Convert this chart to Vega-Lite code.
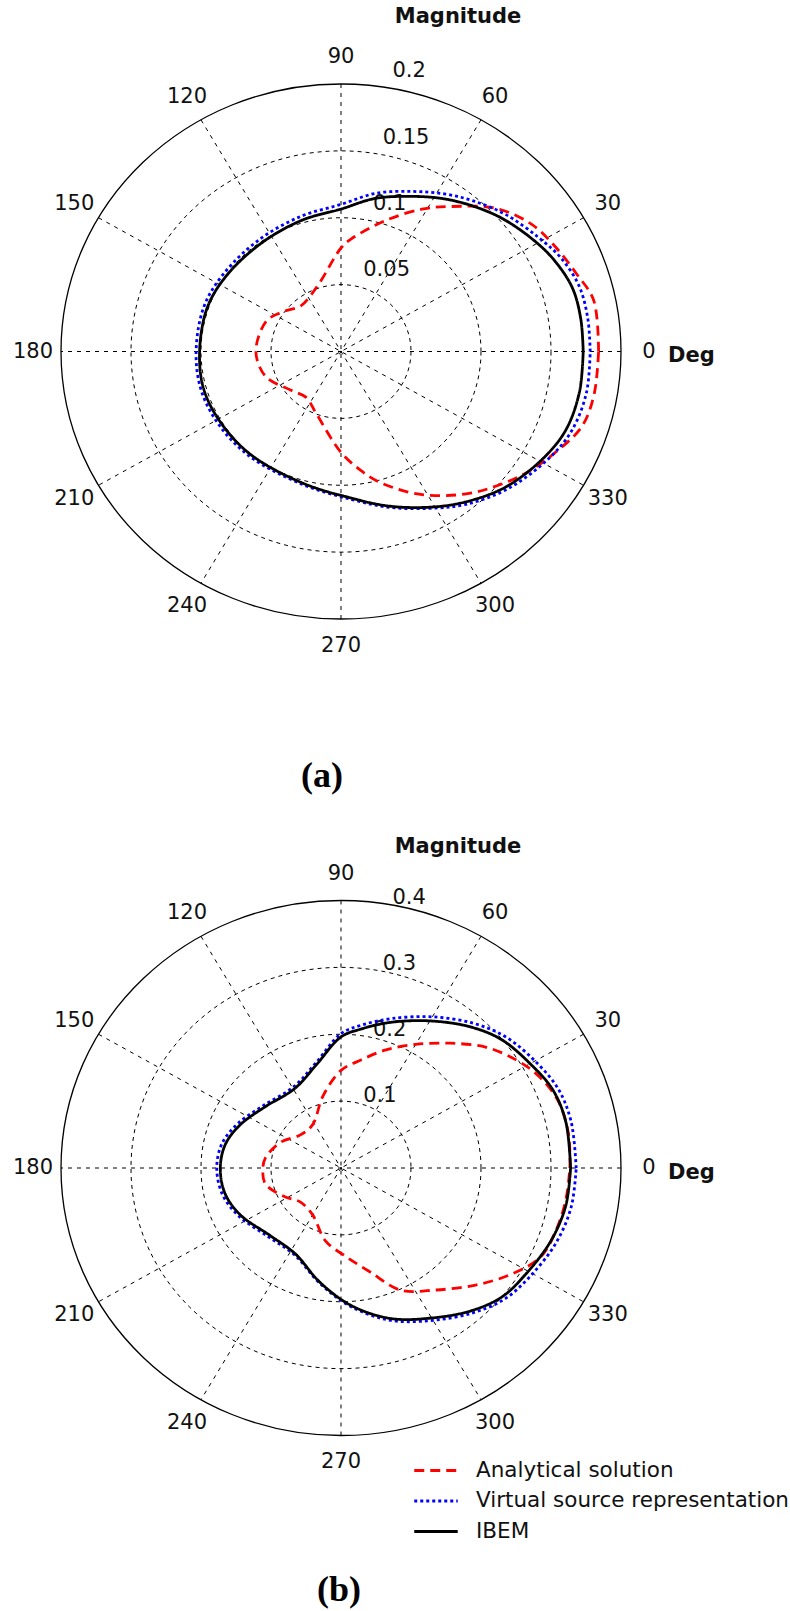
{
  "$schema": "https://vega.github.io/schema/vega-lite/v6.json",
  "width": 790,
  "height": 1611,
  "autosize": {"type": "none"},
  "padding": 0,
  "background": "white",
  "config": {"view": {"stroke": null}, "text": {"font": "DejaVu Sans", "color": "#111"}},
  "datasets": {
    "angles": [
      {"deg": 0, "label": "0"}, {"deg": 30, "label": "30"}, {"deg": 60, "label": "60"}, {"deg": 90, "label": "90"},
      {"deg": 120, "label": "120"}, {"deg": 150, "label": "150"}, {"deg": 180, "label": "180"}, {"deg": 210, "label": "210"},
      {"deg": 240, "label": "240"}, {"deg": 270, "label": "270"}, {"deg": 300, "label": "300"}, {"deg": 330, "label": "330"}
    ],
    "rings_a": [
      {"r": 0.05, "label": "0.05"}, {"r": 0.1, "label": "0.1"}, {"r": 0.15, "label": "0.15"}, {"r": 0.2, "label": "0.2"}
    ],
    "rings_b": [
      {"r": 0.1, "label": "0.1"}, {"r": 0.2, "label": "0.2"}, {"r": 0.3, "label": "0.3"}, {"r": 0.4, "label": "0.4"}
    ],
    "curves_a": [
      {"series": "Analytical solution", "theta": 0, "r": 0.184},
      {"series": "Analytical solution", "theta": 12, "r": 0.1845},
      {"series": "Analytical solution", "theta": 19, "r": 0.178},
      {"series": "Analytical solution", "theta": 27, "r": 0.172},
      {"series": "Analytical solution", "theta": 35, "r": 0.166},
      {"series": "Analytical solution", "theta": 44, "r": 0.154},
      {"series": "Analytical solution", "theta": 54, "r": 0.134},
      {"series": "Analytical solution", "theta": 61, "r": 0.122},
      {"series": "Analytical solution", "theta": 72, "r": 0.103},
      {"series": "Analytical solution", "theta": 85, "r": 0.0845},
      {"series": "Analytical solution", "theta": 90, "r": 0.0774},
      {"series": "Analytical solution", "theta": 105, "r": 0.055},
      {"series": "Analytical solution", "theta": 118, "r": 0.047},
      {"series": "Analytical solution", "theta": 130, "r": 0.0446},
      {"series": "Analytical solution", "theta": 146, "r": 0.052},
      {"series": "Analytical solution", "theta": 157, "r": 0.058},
      {"series": "Analytical solution", "theta": 180, "r": 0.0608},
      {"series": "Analytical solution", "theta": 199, "r": 0.057},
      {"series": "Analytical solution", "theta": 219, "r": 0.046},
      {"series": "Analytical solution", "theta": 234, "r": 0.0424},
      {"series": "Analytical solution", "theta": 249, "r": 0.0496},
      {"series": "Analytical solution", "theta": 270, "r": 0.0754},
      {"series": "Analytical solution", "theta": 279, "r": 0.09},
      {"series": "Analytical solution", "theta": 286, "r": 0.102},
      {"series": "Analytical solution", "theta": 298, "r": 0.121},
      {"series": "Analytical solution", "theta": 310, "r": 0.139},
      {"series": "Analytical solution", "theta": 318, "r": 0.15},
      {"series": "Analytical solution", "theta": 326, "r": 0.161},
      {"series": "Analytical solution", "theta": 334, "r": 0.171},
      {"series": "Analytical solution", "theta": 342, "r": 0.181},
      {"series": "Analytical solution", "theta": 350, "r": 0.1836},
      {"series": "Analytical solution", "theta": 360, "r": 0.184},
      {"series": "Virtual source representation", "theta": 0, "r": 0.178},
      {"series": "Virtual source representation", "theta": 8, "r": 0.178},
      {"series": "Virtual source representation", "theta": 16, "r": 0.177},
      {"series": "Virtual source representation", "theta": 24, "r": 0.172},
      {"series": "Virtual source representation", "theta": 31, "r": 0.165},
      {"series": "Virtual source representation", "theta": 41, "r": 0.156},
      {"series": "Virtual source representation", "theta": 50, "r": 0.147},
      {"series": "Virtual source representation", "theta": 58, "r": 0.139},
      {"series": "Virtual source representation", "theta": 67, "r": 0.13},
      {"series": "Virtual source representation", "theta": 78, "r": 0.121},
      {"series": "Virtual source representation", "theta": 90, "r": 0.11},
      {"series": "Virtual source representation", "theta": 106, "r": 0.105},
      {"series": "Virtual source representation", "theta": 125, "r": 0.102},
      {"series": "Virtual source representation", "theta": 145, "r": 0.102},
      {"series": "Virtual source representation", "theta": 161, "r": 0.1035},
      {"series": "Virtual source representation", "theta": 180, "r": 0.1035},
      {"series": "Virtual source representation", "theta": 196, "r": 0.104},
      {"series": "Virtual source representation", "theta": 212, "r": 0.103},
      {"series": "Virtual source representation", "theta": 230, "r": 0.102},
      {"series": "Virtual source representation", "theta": 254, "r": 0.103},
      {"series": "Virtual source representation", "theta": 274, "r": 0.111},
      {"series": "Virtual source representation", "theta": 287, "r": 0.122},
      {"series": "Virtual source representation", "theta": 299, "r": 0.134},
      {"series": "Virtual source representation", "theta": 308, "r": 0.145},
      {"series": "Virtual source representation", "theta": 319, "r": 0.157},
      {"series": "Virtual source representation", "theta": 331, "r": 0.168},
      {"series": "Virtual source representation", "theta": 340, "r": 0.175},
      {"series": "Virtual source representation", "theta": 350, "r": 0.178},
      {"series": "Virtual source representation", "theta": 360, "r": 0.178},
      {"series": "IBEM", "theta": 0, "r": 0.173},
      {"series": "IBEM", "theta": 8, "r": 0.173},
      {"series": "IBEM", "theta": 16, "r": 0.172},
      {"series": "IBEM", "theta": 24, "r": 0.167},
      {"series": "IBEM", "theta": 31, "r": 0.161},
      {"series": "IBEM", "theta": 41, "r": 0.152},
      {"series": "IBEM", "theta": 50, "r": 0.143},
      {"series": "IBEM", "theta": 58, "r": 0.135},
      {"series": "IBEM", "theta": 67, "r": 0.126},
      {"series": "IBEM", "theta": 78, "r": 0.117},
      {"series": "IBEM", "theta": 90, "r": 0.1065},
      {"series": "IBEM", "theta": 106, "r": 0.102},
      {"series": "IBEM", "theta": 125, "r": 0.099},
      {"series": "IBEM", "theta": 145, "r": 0.0995},
      {"series": "IBEM", "theta": 161, "r": 0.101},
      {"series": "IBEM", "theta": 180, "r": 0.101},
      {"series": "IBEM", "theta": 196, "r": 0.102},
      {"series": "IBEM", "theta": 212, "r": 0.101},
      {"series": "IBEM", "theta": 230, "r": 0.1005},
      {"series": "IBEM", "theta": 254, "r": 0.102},
      {"series": "IBEM", "theta": 274, "r": 0.11},
      {"series": "IBEM", "theta": 287, "r": 0.121},
      {"series": "IBEM", "theta": 299, "r": 0.133},
      {"series": "IBEM", "theta": 308, "r": 0.143},
      {"series": "IBEM", "theta": 319, "r": 0.155},
      {"series": "IBEM", "theta": 331, "r": 0.165},
      {"series": "IBEM", "theta": 340, "r": 0.171},
      {"series": "IBEM", "theta": 350, "r": 0.173},
      {"series": "IBEM", "theta": 360, "r": 0.173}
    ],
    "curves_b": [
      {"series": "Analytical solution", "theta": 0, "r": 0.327},
      {"series": "Analytical solution", "theta": 9, "r": 0.329},
      {"series": "Analytical solution", "theta": 18, "r": 0.326},
      {"series": "Analytical solution", "theta": 26, "r": 0.314},
      {"series": "Analytical solution", "theta": 33, "r": 0.2975},
      {"series": "Analytical solution", "theta": 41, "r": 0.275},
      {"series": "Analytical solution", "theta": 50, "r": 0.2436},
      {"series": "Analytical solution", "theta": 60, "r": 0.2134},
      {"series": "Analytical solution", "theta": 70, "r": 0.188},
      {"series": "Analytical solution", "theta": 80, "r": 0.164},
      {"series": "Analytical solution", "theta": 90, "r": 0.146},
      {"series": "Analytical solution", "theta": 103.5, "r": 0.1106},
      {"series": "Analytical solution", "theta": 122, "r": 0.0764},
      {"series": "Analytical solution", "theta": 139.5, "r": 0.0762},
      {"series": "Analytical solution", "theta": 156, "r": 0.0945},
      {"series": "Analytical solution", "theta": 172, "r": 0.109},
      {"series": "Analytical solution", "theta": 180, "r": 0.1116},
      {"series": "Analytical solution", "theta": 192.5, "r": 0.1106},
      {"series": "Analytical solution", "theta": 208.6, "r": 0.0905},
      {"series": "Analytical solution", "theta": 221, "r": 0.0773},
      {"series": "Analytical solution", "theta": 240, "r": 0.081},
      {"series": "Analytical solution", "theta": 258.5, "r": 0.1113},
      {"series": "Analytical solution", "theta": 273, "r": 0.1325},
      {"series": "Analytical solution", "theta": 285, "r": 0.161},
      {"series": "Analytical solution", "theta": 295, "r": 0.2015},
      {"series": "Analytical solution", "theta": 306.5, "r": 0.227},
      {"series": "Analytical solution", "theta": 317.7, "r": 0.26},
      {"series": "Analytical solution", "theta": 326.7, "r": 0.29},
      {"series": "Analytical solution", "theta": 335, "r": 0.3147},
      {"series": "Analytical solution", "theta": 343, "r": 0.321},
      {"series": "Analytical solution", "theta": 351.6, "r": 0.3247},
      {"series": "Analytical solution", "theta": 360, "r": 0.327},
      {"series": "Virtual source representation", "theta": 0, "r": 0.336},
      {"series": "Virtual source representation", "theta": 12, "r": 0.336},
      {"series": "Virtual source representation", "theta": 21, "r": 0.332},
      {"series": "Virtual source representation", "theta": 30, "r": 0.32},
      {"series": "Virtual source representation", "theta": 40, "r": 0.306},
      {"series": "Virtual source representation", "theta": 49, "r": 0.287},
      {"series": "Virtual source representation", "theta": 60, "r": 0.261},
      {"series": "Virtual source representation", "theta": 72, "r": 0.235},
      {"series": "Virtual source representation", "theta": 82, "r": 0.216},
      {"series": "Virtual source representation", "theta": 90, "r": 0.201},
      {"series": "Virtual source representation", "theta": 103, "r": 0.161},
      {"series": "Virtual source representation", "theta": 119, "r": 0.139},
      {"series": "Virtual source representation", "theta": 140, "r": 0.145},
      {"series": "Virtual source representation", "theta": 156, "r": 0.162},
      {"series": "Virtual source representation", "theta": 168, "r": 0.174},
      {"series": "Virtual source representation", "theta": 180, "r": 0.1775},
      {"series": "Virtual source representation", "theta": 193, "r": 0.174},
      {"series": "Virtual source representation", "theta": 206, "r": 0.163},
      {"series": "Virtual source representation", "theta": 225, "r": 0.146},
      {"series": "Virtual source representation", "theta": 243, "r": 0.146},
      {"series": "Virtual source representation", "theta": 260, "r": 0.175},
      {"series": "Virtual source representation", "theta": 274, "r": 0.208},
      {"series": "Virtual source representation", "theta": 287.5, "r": 0.239},
      {"series": "Virtual source representation", "theta": 300, "r": 0.263},
      {"series": "Virtual source representation", "theta": 311, "r": 0.287},
      {"series": "Virtual source representation", "theta": 320, "r": 0.305},
      {"series": "Virtual source representation", "theta": 329, "r": 0.315},
      {"series": "Virtual source representation", "theta": 340, "r": 0.327},
      {"series": "Virtual source representation", "theta": 350, "r": 0.334},
      {"series": "Virtual source representation", "theta": 360, "r": 0.336},
      {"series": "IBEM", "theta": 0, "r": 0.328},
      {"series": "IBEM", "theta": 12, "r": 0.3285},
      {"series": "IBEM", "theta": 21, "r": 0.3245},
      {"series": "IBEM", "theta": 30, "r": 0.312},
      {"series": "IBEM", "theta": 40, "r": 0.299},
      {"series": "IBEM", "theta": 49, "r": 0.28},
      {"series": "IBEM", "theta": 60, "r": 0.254},
      {"series": "IBEM", "theta": 72, "r": 0.229},
      {"series": "IBEM", "theta": 82, "r": 0.21},
      {"series": "IBEM", "theta": 90, "r": 0.196},
      {"series": "IBEM", "theta": 103, "r": 0.158},
      {"series": "IBEM", "theta": 119, "r": 0.136},
      {"series": "IBEM", "theta": 140, "r": 0.142},
      {"series": "IBEM", "theta": 156, "r": 0.158},
      {"series": "IBEM", "theta": 168, "r": 0.169},
      {"series": "IBEM", "theta": 180, "r": 0.1724},
      {"series": "IBEM", "theta": 193, "r": 0.17},
      {"series": "IBEM", "theta": 206, "r": 0.16},
      {"series": "IBEM", "theta": 225, "r": 0.143},
      {"series": "IBEM", "theta": 243, "r": 0.144},
      {"series": "IBEM", "theta": 260, "r": 0.1735},
      {"series": "IBEM", "theta": 274, "r": 0.206},
      {"series": "IBEM", "theta": 287.5, "r": 0.236},
      {"series": "IBEM", "theta": 300, "r": 0.259},
      {"series": "IBEM", "theta": 311, "r": 0.283},
      {"series": "IBEM", "theta": 320, "r": 0.3},
      {"series": "IBEM", "theta": 329, "r": 0.308},
      {"series": "IBEM", "theta": 340, "r": 0.319},
      {"series": "IBEM", "theta": 350, "r": 0.326},
      {"series": "IBEM", "theta": 360, "r": 0.328}
    ],
    "titles_a": [{"text": "Magnitude"}],
    "deg_a": [{"text": "Deg"}],
    "cap_a": [{"text": "(a)"}],
    "titles_b": [{"text": "Magnitude"}],
    "deg_b": [{"text": "Deg"}],
    "cap_b": [{"text": "(b)"}]
  },
  "layer": [
    {
      "layer": [
        {
          "data": {"name": "rings_a"},
          "transform": [{"filter": "datum.r < 0.2"}],
          "mark": {"type": "point", "shape": "M1,0C1,0.5277,0.5523,0.9554,0,0.9554C-0.5523,0.9554,-1,0.5277,-1,0C-1,-0.5277,-0.5523,-0.9554,0,-0.9554C0.5523,-0.9554,1,-0.5277,1,0Z", "filled": false, "stroke": "#000", "strokeWidth": 1, "strokeDash": [4, 4], "opacity": 1},
          "encoding": {
            "x": {"datum": 0, "type": "quantitative", "scale": {"domain": [-0.243571, 0.320714], "nice": false, "zero": false}, "axis": null},
            "y": {"datum": 0, "type": "quantitative", "scale": {"domain": [-0.941682, 0.262804], "nice": false, "zero": false}, "axis": null},
            "size": {"field": "r", "type": "quantitative", "scale": {"type": "pow", "exponent": 2, "domain": [0, 0.2], "range": [0, 313600]}, "legend": null}
          }
        },
        {
          "data": {"name": "rings_a"},
          "transform": [{"filter": "datum.r >= 0.2"}],
          "mark": {"type": "point", "shape": "M1,0C1,0.5277,0.5523,0.9554,0,0.9554C-0.5523,0.9554,-1,0.5277,-1,0C-1,-0.5277,-0.5523,-0.9554,0,-0.9554C0.5523,-0.9554,1,-0.5277,1,0Z", "filled": false, "stroke": "#000", "strokeWidth": 1.3, "opacity": 1},
          "encoding": {
            "x": {"datum": 0, "type": "quantitative", "scale": {"domain": [-0.243571, 0.320714], "nice": false, "zero": false}, "axis": null},
            "y": {"datum": 0, "type": "quantitative", "scale": {"domain": [-0.941682, 0.262804], "nice": false, "zero": false}, "axis": null},
            "size": {"field": "r", "type": "quantitative", "scale": {"type": "pow", "exponent": 2, "domain": [0, 0.2], "range": [0, 313600]}, "legend": null}
          }
        },
        {
          "data": {"name": "angles"},
          "transform": [
            {"filter": "datum.deg < 180"},
            {"calculate": "0.2*cos(datum.deg*PI/180)", "as": "sx"},
            {"calculate": "0.2*sin(datum.deg*PI/180)", "as": "sy"},
            {"calculate": "-datum.sx", "as": "ex"},
            {"calculate": "-datum.sy", "as": "ey"}
          ],
          "mark": {"type": "rule", "stroke": "#000", "strokeWidth": 1, "strokeDash": [4, 5]},
          "encoding": {
            "x": {"field": "sx", "type": "quantitative", "scale": {"domain": [-0.243571, 0.320714], "nice": false, "zero": false}, "axis": null},
            "y": {"field": "sy", "type": "quantitative", "scale": {"domain": [-0.941682, 0.262804], "nice": false, "zero": false}, "axis": null},
            "x2": {"field": "ex"},
            "y2": {"field": "ey"}
          }
        },
        {
          "data": {"name": "angles"},
          "transform": [
            {"calculate": "0.22*cos(datum.deg*PI/180)", "as": "lx"},
            {"calculate": "0.22*sin(datum.deg*PI/180)", "as": "ly"}
          ],
          "mark": {"type": "text", "fontSize": 21, "align": "center", "baseline": "middle"},
          "encoding": {
            "x": {"field": "lx", "type": "quantitative", "scale": {"domain": [-0.243571, 0.320714], "nice": false, "zero": false}, "axis": null},
            "y": {"field": "ly", "type": "quantitative", "scale": {"domain": [-0.941682, 0.262804], "nice": false, "zero": false}, "axis": null},
            "text": {"field": "label"}
          }
        },
        {
          "data": {"name": "rings_a"},
          "transform": [
            {"calculate": "(datum.r+0.0025)*cos(82*PI/180)", "as": "lx"},
            {"calculate": "(datum.r+0.0025)*sin(82*PI/180)", "as": "ly"}
          ],
          "mark": {"type": "text", "fontSize": 21, "align": "left", "baseline": "bottom", "dx": 12, "dy": -2},
          "encoding": {
            "x": {"field": "lx", "type": "quantitative", "scale": {"domain": [-0.243571, 0.320714], "nice": false, "zero": false}, "axis": null},
            "y": {"field": "ly", "type": "quantitative", "scale": {"domain": [-0.941682, 0.262804], "nice": false, "zero": false}, "axis": null},
            "text": {"field": "label"}
          }
        },
        {
          "data": {"name": "curves_a"},
          "transform": [
            {"calculate": "datum.r*cos(datum.theta*PI/180)", "as": "x"},
            {"calculate": "datum.r*sin(datum.theta*PI/180)", "as": "y"}
          ],
          "mark": {"type": "line", "strokeWidth": 2.8, "interpolate": "catmull-rom"},
          "encoding": {
            "x": {"field": "x", "type": "quantitative", "scale": {"domain": [-0.243571, 0.320714], "nice": false, "zero": false}, "axis": null},
            "y": {"field": "y", "type": "quantitative", "scale": {"domain": [-0.941682, 0.262804], "nice": false, "zero": false}, "axis": null},
            "order": {"field": "theta", "type": "quantitative"},
            "color": {"field": "series", "type": "nominal", "scale": {"domain": ["Analytical solution", "Virtual source representation", "IBEM"], "range": ["#ff0000", "#0000ff", "#000000"]}, "legend": null},
            "strokeDash": {"field": "series", "type": "nominal", "scale": {"domain": ["Analytical solution", "Virtual source representation", "IBEM"], "range": [[10, 6], [3, 3], [1, 0]]}, "legend": null}
          }
        },
        {
          "data": {"name": "titles_a"},
          "mark": {"type": "text", "fontSize": 21, "fontWeight": "bold", "align": "center", "baseline": "middle"},
          "encoding": {
            "x": {"datum": 0.0836, "type": "quantitative", "scale": {"domain": [-0.243571, 0.320714], "nice": false, "zero": false}, "axis": null},
            "y": {"datum": 0.2501, "type": "quantitative", "scale": {"domain": [-0.941682, 0.262804], "nice": false, "zero": false}, "axis": null},
            "text": {"field": "text"}
          }
        },
        {
          "data": {"name": "deg_a"},
          "mark": {"type": "text", "fontSize": 21, "fontWeight": "bold", "align": "left", "baseline": "middle"},
          "encoding": {
            "x": {"datum": 0.2336, "type": "quantitative", "scale": {"domain": [-0.243571, 0.320714], "nice": false, "zero": false}, "axis": null},
            "y": {"datum": -0.0034, "type": "quantitative", "scale": {"domain": [-0.941682, 0.262804], "nice": false, "zero": false}, "axis": null},
            "text": {"field": "text"}
          }
        },
        {
          "data": {"name": "cap_a"},
          "mark": {"type": "text", "font": "Liberation Serif", "fontSize": 36, "fontWeight": "bold", "align": "center", "baseline": "middle", "color": "#000"},
          "encoding": {
            "x": {"datum": -0.0136, "type": "quantitative", "scale": {"domain": [-0.243571, 0.320714], "nice": false, "zero": false}, "axis": null},
            "y": {"datum": -0.3174, "type": "quantitative", "scale": {"domain": [-0.941682, 0.262804], "nice": false, "zero": false}, "axis": null},
            "text": {"field": "text"}
          }
        }
      ]
    },
    {
      "layer": [
        {
          "data": {"name": "rings_b"},
          "transform": [{"filter": "datum.r < 0.4"}],
          "mark": {"type": "point", "shape": "M1,0C1,0.5277,0.5523,0.9554,0,0.9554C-0.5523,0.9554,-1,0.5277,-1,0C-1,-0.5277,-0.5523,-0.9554,0,-0.9554C0.5523,-0.9554,1,-0.5277,1,0Z", "filled": false, "stroke": "#000", "strokeWidth": 1, "strokeDash": [4, 4], "opacity": 1},
          "encoding": {
            "x": {"datum": 0, "type": "quantitative", "scale": {"domain": [-0.487143, 0.641429], "nice": false, "zero": false}, "axis": null},
            "y": {"datum": 0, "type": "quantitative", "scale": {"domain": [-0.66243, 1.746542], "nice": false, "zero": false}, "axis": null},
            "size": {"field": "r", "type": "quantitative", "scale": {"type": "pow", "exponent": 2, "domain": [0, 0.4], "range": [0, 313600]}, "legend": null}
          }
        },
        {
          "data": {"name": "rings_b"},
          "transform": [{"filter": "datum.r >= 0.4"}],
          "mark": {"type": "point", "shape": "M1,0C1,0.5277,0.5523,0.9554,0,0.9554C-0.5523,0.9554,-1,0.5277,-1,0C-1,-0.5277,-0.5523,-0.9554,0,-0.9554C0.5523,-0.9554,1,-0.5277,1,0Z", "filled": false, "stroke": "#000", "strokeWidth": 1.3, "opacity": 1},
          "encoding": {
            "x": {"datum": 0, "type": "quantitative", "scale": {"domain": [-0.487143, 0.641429], "nice": false, "zero": false}, "axis": null},
            "y": {"datum": 0, "type": "quantitative", "scale": {"domain": [-0.66243, 1.746542], "nice": false, "zero": false}, "axis": null},
            "size": {"field": "r", "type": "quantitative", "scale": {"type": "pow", "exponent": 2, "domain": [0, 0.4], "range": [0, 313600]}, "legend": null}
          }
        },
        {
          "data": {"name": "angles"},
          "transform": [
            {"filter": "datum.deg < 180"},
            {"calculate": "0.4*cos(datum.deg*PI/180)", "as": "sx"},
            {"calculate": "0.4*sin(datum.deg*PI/180)", "as": "sy"},
            {"calculate": "-datum.sx", "as": "ex"},
            {"calculate": "-datum.sy", "as": "ey"}
          ],
          "mark": {"type": "rule", "stroke": "#000", "strokeWidth": 1, "strokeDash": [4, 5]},
          "encoding": {
            "x": {"field": "sx", "type": "quantitative", "scale": {"domain": [-0.487143, 0.641429], "nice": false, "zero": false}, "axis": null},
            "y": {"field": "sy", "type": "quantitative", "scale": {"domain": [-0.66243, 1.746542], "nice": false, "zero": false}, "axis": null},
            "x2": {"field": "ex"},
            "y2": {"field": "ey"}
          }
        },
        {
          "data": {"name": "angles"},
          "transform": [
            {"calculate": "0.44*cos(datum.deg*PI/180)", "as": "lx"},
            {"calculate": "0.44*sin(datum.deg*PI/180)", "as": "ly"}
          ],
          "mark": {"type": "text", "fontSize": 21, "align": "center", "baseline": "middle"},
          "encoding": {
            "x": {"field": "lx", "type": "quantitative", "scale": {"domain": [-0.487143, 0.641429], "nice": false, "zero": false}, "axis": null},
            "y": {"field": "ly", "type": "quantitative", "scale": {"domain": [-0.66243, 1.746542], "nice": false, "zero": false}, "axis": null},
            "text": {"field": "label"}
          }
        },
        {
          "data": {"name": "rings_b"},
          "transform": [
            {"calculate": "(datum.r+0.005)*cos(82*PI/180)", "as": "lx"},
            {"calculate": "(datum.r+0.005)*sin(82*PI/180)", "as": "ly"}
          ],
          "mark": {"type": "text", "fontSize": 21, "align": "left", "baseline": "bottom", "dx": 12, "dy": 8},
          "encoding": {
            "x": {"field": "lx", "type": "quantitative", "scale": {"domain": [-0.487143, 0.641429], "nice": false, "zero": false}, "axis": null},
            "y": {"field": "ly", "type": "quantitative", "scale": {"domain": [-0.66243, 1.746542], "nice": false, "zero": false}, "axis": null},
            "text": {"field": "label"}
          }
        },
        {
          "data": {"name": "curves_b"},
          "transform": [
            {"calculate": "datum.r*cos(datum.theta*PI/180)", "as": "x"},
            {"calculate": "datum.r*sin(datum.theta*PI/180)", "as": "y"}
          ],
          "mark": {"type": "line", "strokeWidth": 2.8, "interpolate": "catmull-rom"},
          "encoding": {
            "x": {"field": "x", "type": "quantitative", "scale": {"domain": [-0.487143, 0.641429], "nice": false, "zero": false}, "axis": null},
            "y": {"field": "y", "type": "quantitative", "scale": {"domain": [-0.66243, 1.746542], "nice": false, "zero": false}, "axis": null},
            "order": {"field": "theta", "type": "quantitative"},
            "color": {"field": "series", "type": "nominal", "scale": {"domain": ["Analytical solution", "Virtual source representation", "IBEM"], "range": ["#ff0000", "#0000ff", "#000000"]},
              "legend": {"title": null, "orient": "none", "legendX": 419.5, "legendY": 1454, "padding": 0, "symbolType": "M-1.475,0L1.475,0", "symbolSize": 870, "symbolStrokeWidth": 3, "labelFontSize": 21.5, "labelFont": "DejaVu Sans", "labelColor": "#111", "labelOffset": 23.5, "rowPadding": 3.5, "labelLimit": 400}},
            "strokeDash": {"field": "series", "type": "nominal", "scale": {"domain": ["Analytical solution", "Virtual source representation", "IBEM"], "range": [[10, 6], [3, 3], [1, 0]]},
              "legend": {"title": null, "orient": "none", "legendX": 419.5, "legendY": 1454, "padding": 0, "symbolType": "M-1.475,0L1.475,0", "symbolSize": 870, "symbolStrokeWidth": 3, "labelFontSize": 21.5, "labelFont": "DejaVu Sans", "labelColor": "#111", "labelOffset": 23.5, "rowPadding": 3.5, "labelLimit": 400}}
          }
        },
        {
          "data": {"name": "titles_b"},
          "mark": {"type": "text", "fontSize": 21, "fontWeight": "bold", "align": "center", "baseline": "middle"},
          "encoding": {
            "x": {"datum": 0.1671, "type": "quantitative", "scale": {"domain": [-0.487143, 0.641429], "nice": false, "zero": false}, "axis": null},
            "y": {"datum": 0.48, "type": "quantitative", "scale": {"domain": [-0.66243, 1.746542], "nice": false, "zero": false}, "axis": null},
            "text": {"field": "text"}
          }
        },
        {
          "data": {"name": "deg_b"},
          "mark": {"type": "text", "fontSize": 21, "fontWeight": "bold", "align": "left", "baseline": "middle"},
          "encoding": {
            "x": {"datum": 0.4671, "type": "quantitative", "scale": {"domain": [-0.487143, 0.641429], "nice": false, "zero": false}, "axis": null},
            "y": {"datum": -0.0075, "type": "quantitative", "scale": {"domain": [-0.66243, 1.746542], "nice": false, "zero": false}, "axis": null},
            "text": {"field": "text"}
          }
        },
        {
          "data": {"name": "cap_b"},
          "mark": {"type": "text", "font": "Liberation Serif", "fontSize": 36, "fontWeight": "bold", "align": "center", "baseline": "middle", "color": "#000"},
          "encoding": {
            "x": {"datum": -0.003, "type": "quantitative", "scale": {"domain": [-0.487143, 0.641429], "nice": false, "zero": false}, "axis": null},
            "y": {"datum": -0.631, "type": "quantitative", "scale": {"domain": [-0.66243, 1.746542], "nice": false, "zero": false}, "axis": null},
            "text": {"field": "text"}
          }
        }
      ]
    }
  ],
  "resolve": {"scale": {"x": "independent", "y": "independent", "size": "independent", "color": "independent", "strokeDash": "independent"}}
}
